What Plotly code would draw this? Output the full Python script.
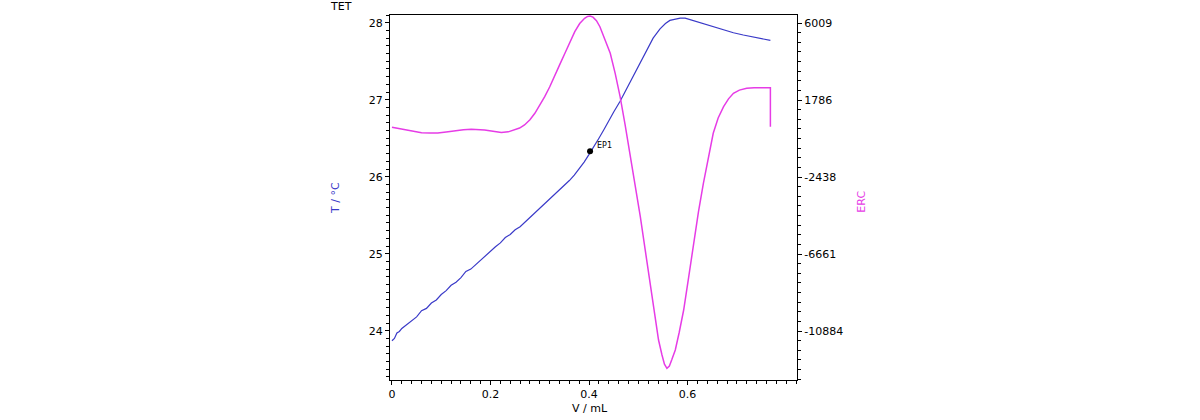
import plotly.graph_objects as go

# Temperature curve (left axis)
v_temp = [0.000, 0.005, 0.010, 0.015, 0.020, 0.030, 0.040, 0.050, 0.060, 0.070,
          0.080, 0.090, 0.100, 0.110, 0.120, 0.130, 0.140, 0.150, 0.160, 0.170,
          0.180, 0.190, 0.200, 0.210, 0.220, 0.230, 0.240, 0.250, 0.260, 0.270,
          0.280, 0.290, 0.300, 0.310, 0.320, 0.330, 0.340, 0.350, 0.360, 0.370,
          0.380, 0.390, 0.400, 0.410, 0.420, 0.430, 0.440, 0.450, 0.463, 0.476,
          0.490, 0.503, 0.517, 0.530, 0.544, 0.555, 0.564, 0.575, 0.585, 0.595,
          0.605, 0.620, 0.639, 0.655, 0.673, 0.693, 0.713, 0.740, 0.768]
t_temp = [23.87, 23.90, 23.97, 23.99, 24.03, 24.08, 24.12, 24.18, 24.26, 24.29,
          24.36, 24.40, 24.47, 24.52, 24.59, 24.63, 24.69, 24.77, 24.80, 24.86,
          24.92, 24.98, 25.04, 25.09, 25.14, 25.21, 25.25, 25.31, 25.35, 25.41,
          25.47, 25.52, 25.58, 25.64, 25.70, 25.76, 25.82, 25.88, 25.95, 26.02,
          26.10, 26.19, 26.29, 26.39, 26.50, 26.61, 26.73, 26.84, 26.98, 27.14,
          27.31, 27.48, 27.65, 27.80, 27.92, 27.99, 28.03, 28.05, 28.06, 28.06,
          28.04, 28.01, 27.97, 27.94, 27.91, 27.87, 27.84, 27.81, 27.77]

# ERC curve (right axis)
v_erc = [0.000, 0.013, 0.026, 0.043, 0.060, 0.077, 0.093, 0.110, 0.127, 0.145,
         0.161, 0.175, 0.188, 0.205, 0.222, 0.236, 0.249, 0.259, 0.269, 0.280,
         0.290, 0.300, 0.310, 0.320, 0.330, 0.340, 0.351, 0.361, 0.371, 0.381,
         0.391, 0.397, 0.402, 0.408, 0.415, 0.422, 0.432, 0.443, 0.453, 0.463,
         0.473, 0.483, 0.494, 0.504, 0.514, 0.524, 0.533, 0.541, 0.548, 0.553,
         0.558, 0.563, 0.568, 0.575, 0.583, 0.592, 0.602, 0.612, 0.622, 0.632,
         0.642, 0.652, 0.662, 0.673, 0.683, 0.693, 0.705, 0.720, 0.735, 0.745,
         0.768, 0.768]
erc = [290, 220, 141, 60, -7, -30, -23, 30, 103, 160,
       180, 170, 141, 70, 0, 40, 141, 250, 415, 700,
       1057, 1480, 1967, 2500, 3064, 3700, 4347, 4970, 5532, 5980,
       6267, 6370, 6393, 6330, 6140, 5806, 5150, 4347, 3250, 1967,
       450, -1137, -2900, -4613, -6450, -8266, -9900, -11375, -12200, -12700,
       -12927, -12800, -12450, -11924, -10950, -9730, -7950, -6072, -4350, -2782,
       -1300, -40, 800, 1419, 1850, 2154, 2330, 2428, 2455, 2461,
       2461, 322]

# Endpoint
ep_v = [0.402]
ep_t = [26.33]
ep_label = ["EP1"]

y_ticks = [24, 25, 26, 27, 28]
y2_ticks = [6009, 1786, -2438, -6661, -10884]
y2_ticklabels = ["6009", "1786", "-2438", "-6661", "-10884"]
x_ticks = [0, 0.2, 0.4, 0.6]
x_ticklabels = ["0", "0.2", "0.4", "0.6"]

BLUE = "#3a3ac8"
PINK = "#e63ce6"
FONT = "DejaVu Sans"

fig = go.Figure()
fig.add_trace(go.Scatter(x=v_erc, y=erc, mode="lines", yaxis="y2",
                         line=dict(color=PINK, width=1.5),
                         showlegend=False, hoverinfo="skip"))
fig.add_trace(go.Scatter(x=v_temp, y=t_temp, mode="lines",
                         line=dict(color=BLUE, width=1.2),
                         showlegend=False, hoverinfo="skip"))
fig.add_trace(go.Scatter(x=ep_v, y=ep_t, mode="markers",
                         marker=dict(color="black", size=6),
                         showlegend=False, hoverinfo="skip"))

axis_common = dict(showline=True, linecolor="black", linewidth=1.2,
                   ticks="outside", tickcolor="black", ticklen=4, tickwidth=1,
                   showgrid=False, zeroline=False,
                   tickfont=dict(family=FONT, size=11, color="black"))

fig.update_layout(
    width=1200, height=420,
    margin=dict(l=390, r=403, t=15, b=40),
    paper_bgcolor="white", plot_bgcolor="white",
    font=dict(family=FONT, size=11, color="black"),
    xaxis=dict(range=[-0.004, 0.822], tickvals=x_ticks, ticktext=x_ticklabels,
               mirror=True,
               minor=dict(dtick=0.02, tick0=0, ticks="outside", ticklen=3,
                          tickcolor="black", showgrid=False),
               **axis_common),
    yaxis=dict(range=[23.36, 28.10], tickvals=y_ticks, mirror=True,
               minor=dict(dtick=0.1, tick0=24, ticks="outside", ticklen=3,
                          tickcolor="black", showgrid=False),
               **axis_common),
    yaxis2=dict(range=[-13569, 6448], tickvals=y2_ticks, ticktext=y2_ticklabels,
                overlaying="y", side="right",
                minor=dict(dtick=4223 / 8, tick0=6009, ticks="outside", ticklen=3,
                           tickcolor="black", showgrid=False),
                **axis_common),
    annotations=[
        dict(text="TET", xref="paper", yref="paper", x=-0.152, y=1.0, xanchor="left",
             yanchor="bottom", showarrow=False, font=dict(family=FONT, size=11, color="black")),
        dict(text="T / °C", xref="paper", yref="paper", x=-0.155, y=0.50, textangle=-90,
             showarrow=False, font=dict(family=FONT, size=11, color=BLUE)),
        dict(text="ERC", xref="paper", yref="paper", x=1.18, y=0.488, textangle=-90,
             showarrow=False, font=dict(family=FONT, size=11, color=PINK)),
        dict(text="V / mL", xref="paper", yref="paper", x=0.491, y=-0.079,
             yanchor="middle", showarrow=False, font=dict(family=FONT, size=11, color="black")),
        dict(text=ep_label[0], x=ep_v[0], y=ep_t[0], xref="x", yref="y",
             xanchor="left", yanchor="middle", xshift=5, yshift=6, showarrow=False,
             font=dict(family=FONT, size=8, color="black")),
    ],
)

fig.write_html("out.html")
